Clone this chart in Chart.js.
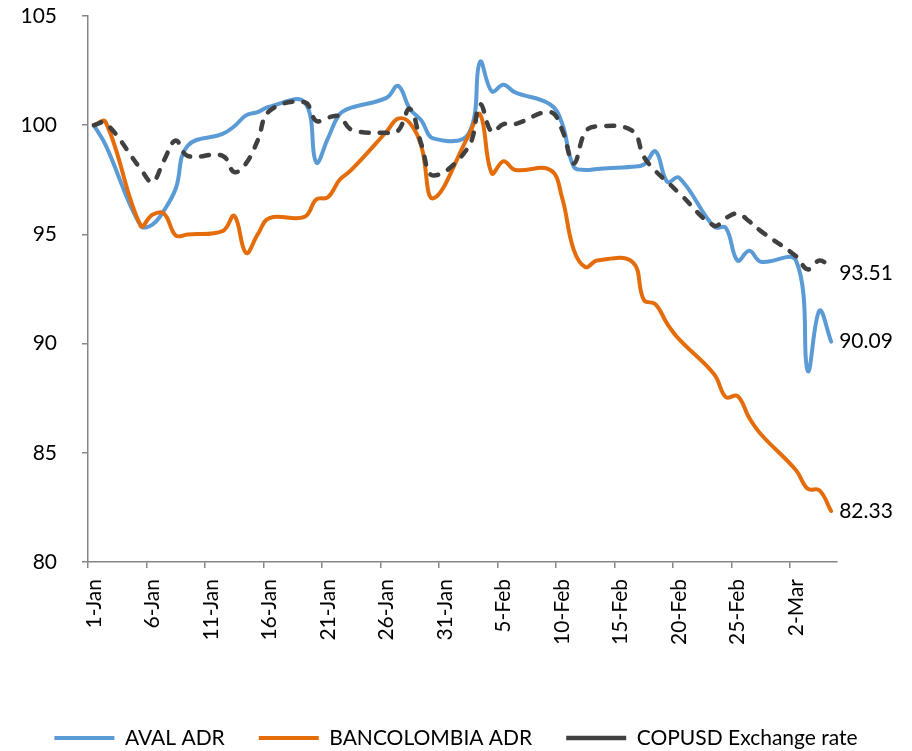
<!DOCTYPE html>
<html>
<head>
<meta charset="utf-8">
<script src="https://cdn.jsdelivr.net/npm/chart.js@4.4.1/dist/chart.umd.min.js"></script>
<style>
  html, body { margin: 0; padding: 0; background: #fff; }
  #wrap { width: 912px; height: 751px; }
</style>
</head>
<body>
<div id="wrap"><canvas id="adrChart"></canvas></div>
<script>
// every calendar day on the axis (date axis, 2015)
var calendarDays = [
    "1-Jan", "2-Jan", "3-Jan", "4-Jan", "5-Jan", "6-Jan", "7-Jan", "8-Jan", "9-Jan", "10-Jan",
    "11-Jan", "12-Jan", "13-Jan", "14-Jan", "15-Jan", "16-Jan", "17-Jan", "18-Jan", "19-Jan", "20-Jan",
    "21-Jan", "22-Jan", "23-Jan", "24-Jan", "25-Jan", "26-Jan", "27-Jan", "28-Jan", "29-Jan", "30-Jan",
    "31-Jan", "1-Feb", "2-Feb", "3-Feb", "4-Feb", "5-Feb", "6-Feb", "7-Feb", "8-Feb", "9-Feb",
    "10-Feb", "11-Feb", "12-Feb", "13-Feb", "14-Feb", "15-Feb", "16-Feb", "17-Feb", "18-Feb", "19-Feb",
    "20-Feb", "21-Feb", "22-Feb", "23-Feb", "24-Feb", "25-Feb", "26-Feb", "27-Feb", "28-Feb", "1-Mar",
    "2-Mar", "3-Mar", "4-Mar", "5-Mar"
];

// days with a value (weekdays)
var tradingDays = [
    "1-Jan", "2-Jan", "5-Jan", "6-Jan", "7-Jan", "8-Jan", "9-Jan",
    "12-Jan", "13-Jan", "14-Jan", "15-Jan", "16-Jan",
    "19-Jan", "20-Jan", "21-Jan", "22-Jan", "23-Jan",
    "26-Jan", "27-Jan", "28-Jan", "29-Jan", "30-Jan",
    "2-Feb", "3-Feb", "4-Feb", "5-Feb", "6-Feb",
    "9-Feb", "10-Feb", "11-Feb", "12-Feb", "13-Feb",
    "16-Feb", "17-Feb", "18-Feb", "19-Feb", "20-Feb",
    "23-Feb", "24-Feb", "25-Feb", "26-Feb", "27-Feb",
    "2-Mar", "3-Mar", "4-Mar", "5-Mar"
];

var avalAdr = [
    100, 99.1, 95.4, 95.45, 96.1, 97.1, 99.05,
    99.6, 99.95, 100.45, 100.6, 100.85,
    101.05, 98.3, 99.4, 100.5, 100.8,
    101.25, 101.8, 100.75, 100.2, 99.4,
    99.6, 102.9, 101.55, 101.85, 101.5,
    100.95, 100.1, 98.1, 97.95, 98.0,
    98.1, 98.2, 98.8, 97.4, 97.6,
    95.35, 95.3, 93.8, 94.25, 93.75,
    93.8, 88.75, 91.5, 90.09
];

var bancolombiaAdr = [
    100, 100.15, 95.4, 95.9, 95.95, 94.95, 95.0,
    95.15, 95.85, 94.15, 95.0, 95.75,
    95.8, 96.6, 96.7, 97.5, 97.95,
    99.7, 100.3, 100.1, 99.0, 96.65,
    99.5, 100.5, 97.8, 98.35, 97.95,
    97.95, 96.7, 94.3, 93.5, 93.8,
    93.75, 92.0, 91.8, 90.9, 90.2,
    88.6, 87.55, 87.6, 86.6, 85.85,
    84.2, 83.35, 83.28, 82.33
];

var copusdRate = [
    100, 100.1, 98.0, 97.4, 98.4, 99.3, 98.6,
    98.6, 97.85, 98.25, 99.3, 100.65,
    101.05, 100.2, 100.35, 100.4, 99.8,
    99.65, 99.75, 100.75, 99.1, 97.7,
    99.0, 100.95, 99.7, 100.05, 100.05,
    100.6, 99.8, 98.25, 99.7, 99.95,
    99.75, 98.55, 97.9, 97.4, 96.9,
    95.4, 95.75, 95.95, 95.6, 95.15,
    94.0, 93.4, 93.8, 93.51
];

var yMin = 80;
var yMax = 105;
var yStep = 5;

var AXIS_GREY = "#868686";

function toPoints(values) {
    return values.map(function (v, i) {
        return { x: tradingDays[i], y: v };
    });
}

// value label at the end of each line
var endLabels = {
    id: "endLabels",
    afterDatasetsDraw: function (chart) {
        var ctx = chart.ctx;
        ctx.save();
        ctx.font = "21px Lato";
        ctx.fillStyle = "#000";
        ctx.textAlign = "left";
        ctx.textBaseline = "middle";
        chart.data.datasets.forEach(function (ds, i) {
            var meta = chart.getDatasetMeta(i);
            var last = meta.data[meta.data.length - 1];
            var value = ds.data[ds.data.length - 1].y;
            ctx.fillText(value.toFixed(2), last.x + 8, last.y + (ds.endLabelShift || 0));
        });
        ctx.restore();
    }
};

function everyFifth(ctx) {
    return ctx.index % 5 === 0 ? AXIS_GREY : "rgba(0,0,0,0)";
}

document.addEventListener("DOMContentLoaded", function () {
    Chart.defaults.font.family = "Lato, 'Liberation Sans', sans-serif";
    Chart.defaults.font.size = 21;
    Chart.defaults.color = "#000";

    var ctx = document.getElementById("adrChart");
    new Chart(ctx, {
        type: "line",
        data: {
            labels: calendarDays,
            datasets: [{
                    label: "AVAL ADR",
                    data: toPoints(avalAdr),
                    borderColor: "#5B9BD5",
                    backgroundColor: "#5B9BD5",
                    borderWidth: 4,
                    borderCapStyle: "round",
                    borderJoinStyle: "round",
                    pointRadius: 0,
                    tension: 0.4,
                    order: 3
                }, {
                    label: "BANCOLOMBIA ADR",
                    data: toPoints(bancolombiaAdr),
                    borderColor: "#E46C0A",
                    backgroundColor: "#E46C0A",
                    borderWidth: 4,
                    borderCapStyle: "round",
                    borderJoinStyle: "round",
                    pointRadius: 0,
                    tension: 0.4,
                    order: 2
                }, {
                    label: "COPUSD Exchange rate",
                    data: toPoints(copusdRate),
                    borderColor: "#404040",
                    backgroundColor: "#404040",
                    borderWidth: 4.5,
                    borderDash: [8, 11],
                    borderCapStyle: "round",
                    borderJoinStyle: "round",
                    pointRadius: 0,
                    tension: 0.4,
                    order: 1,
                    endLabelShift: 6
                }]
        },
        options: {
            responsive: true,
            maintainAspectRatio: false,
            animation: false,
            layout: {
                padding: { top: 16, right: 0, left: 0, bottom: -7.5 }
            },
            scales: {
                x: {
                    type: "category",
                    offset: true,
                    grid: {
                        offset: true,
                        drawOnChartArea: false,
                        color: everyFifth,
                        tickColor: everyFifth,
                        tickLength: 6,
                        lineWidth: 1.5
                    },
                    border: { color: AXIS_GREY, width: 1.5 },
                    ticks: {
                        autoSkip: false,
                        minRotation: 90,
                        maxRotation: 90,
                        padding: 11,
                        color: "#000",
                        callback: function (value, index) {
                            return index % 5 === 0 ? this.getLabelForValue(value) : "";
                        }
                    },
                    afterFit: function (scale) {
                        scale.height = 131.5;
                    }
                },
                y: {
                    min: yMin,
                    max: yMax,
                    grid: {
                        drawOnChartArea: false,
                        color: AXIS_GREY,
                        tickLength: 6,
                        lineWidth: 1.5
                    },
                    border: { color: AXIS_GREY, width: 1.5 },
                    ticks: {
                        stepSize: yStep,
                        padding: 25,
                        color: "#000"
                    },
                    afterFit: function (scale) {
                        scale.width = 88;
                        scale.paddingTop = 12;
                        scale.paddingBottom = 12;
                    }
                },
                // empty strip on the right that holds the end labels
                yRight: {
                    position: "right",
                    display: true,
                    grid: { display: false },
                    border: { display: false },
                    ticks: { display: false },
                    afterFit: function (scale) {
                        scale.width = 75;
                        scale.paddingTop = 0;
                        scale.paddingBottom = 0;
                    }
                }
            },
            plugins: {
                legend: {
                    position: "bottom",
                    labels: {
                        usePointStyle: true,
                        pointStyle: "line",
                        pointStyleWidth: 60,
                        padding: 34,
                        color: "#000",
                        sort: function (a, b) { return a.datasetIndex - b.datasetIndex; }
                    }
                },
                tooltip: { enabled: false }
            }
        },
        plugins: [endLabels]
    });
});
</script>
</body>
</html>
